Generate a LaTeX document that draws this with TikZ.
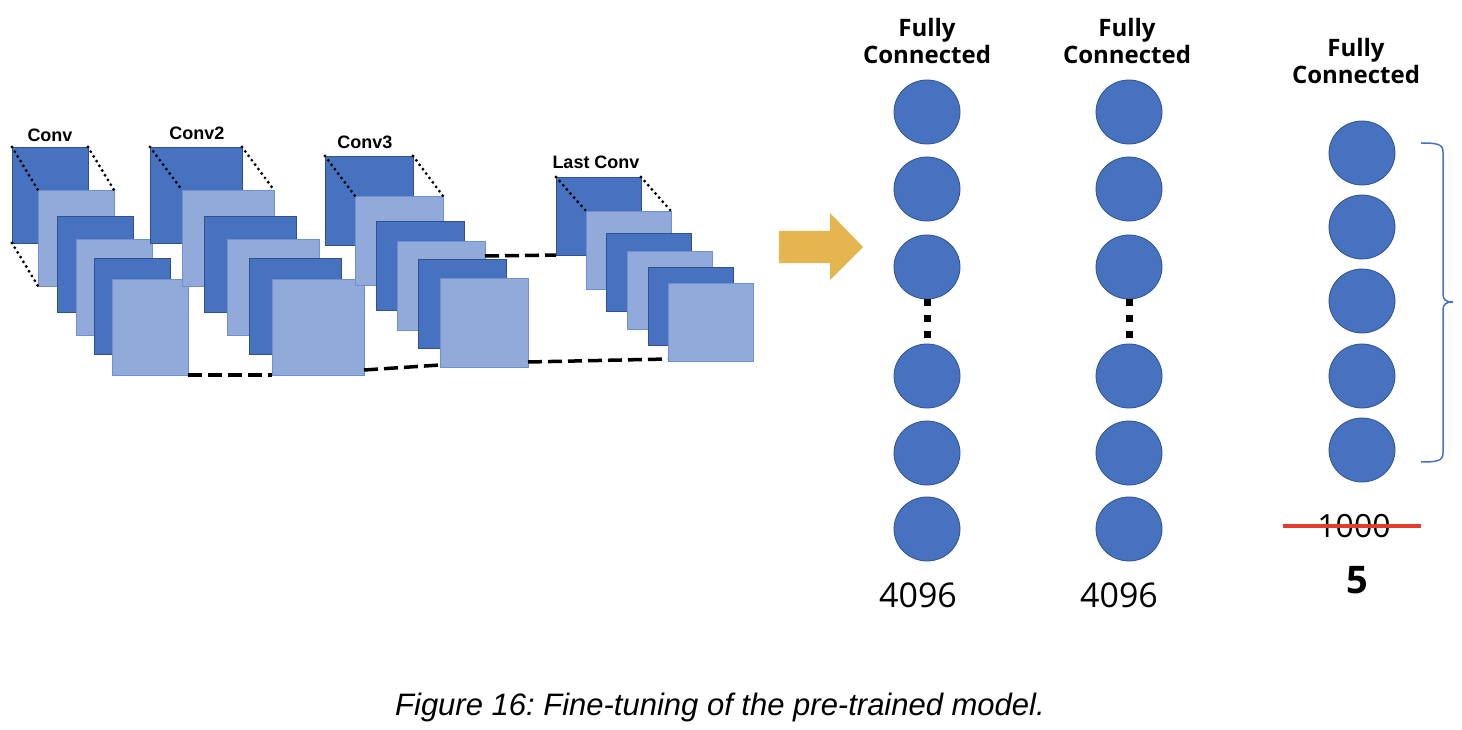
\documentclass[tikz,border=0pt]{standalone}
\usepackage{fontspec}
\setmainfont{Liberation Sans}
\newfontfamily\segfont{Open Sans}
\usetikzlibrary{calc,shapes.geometric}
\definecolor{dkblue}{HTML}{4672BF}
\definecolor{ltblue}{HTML}{92AAD9}
\definecolor{navy}{HTML}{2F528F}
\definecolor{ltedge}{HTML}{6F8FCF}
\definecolor{gold}{HTML}{E5B64F}
\definecolor{strikered}{HTML}{E53B2B}
\frenchspacing
\begin{document}
\begin{tikzpicture}[x=1pt,y=-1pt,
  fmap/.style={anchor=north west, inner sep=0pt, outer sep=0pt, line width=0.8pt},
  dk/.style={fmap, draw=navy, fill=dkblue},
  lt/.style={fmap, draw=ltedge, fill=ltblue},
  sa/.style={minimum width=76pt, minimum height=96pt},
  sb/.style={minimum width=92pt, minimum height=96pt},
  sc/.style={minimum width=88pt, minimum height=89pt},
  sd/.style={minimum width=85pt, minimum height=78pt},
  cornerdots/.style={line width=3.2pt, line cap=round, dash pattern=on 0pt off 5.5pt},
  dashlink/.style={line width=3.5pt, dash pattern=on 14pt off 6pt},
  fcdots/.style={line width=7pt, dash pattern=on 7pt off 9pt},
  neuron/.style={ellipse, draw=navy, line width=0.8pt, fill=dkblue, minimum width=66pt, minimum height=64pt, inner sep=0pt},
  convlabel/.style={font=\bfseries\fontsize{18}{20}\selectfont, inner sep=0pt},
  fclabel/.style={font=\segfont\bfseries\fontsize{24}{27}\selectfont, align=center, inner sep=0pt},
  num/.style={font=\segfont\fontsize{34}{40}\selectfont, inner sep=0pt},
  bracecol/.style={draw=dkblue, line width=1.5pt}
]
\useasboundingbox (0,0) rectangle (1462,730);
\fill[white] (0,0) rectangle (1462,730);

% stack 1
\node[dk,sa] (s1d1) at (12,147) {};
\node[lt,sa] (s1l1) at (38,190) {};
\node[dk,sa] (s1d2) at (57,216) {};
\node[lt,sa] (s1l2) at (76,239) {};
\node[dk,sa] (s1d3) at (94,258) {};
\node[lt,sa] (s1l3) at (112,279) {};
\draw[cornerdots] (s1d1.north west) -- (s1l1.north west);
\draw[cornerdots] (s1d1.north east) -- (s1l1.north east);
\draw[cornerdots] (s1d1.south west) -- (s1l1.south west);
\node[convlabel] (lab1) at (50,135) {Conv};

% stack 2
\node[dk,sb] (s2d1) at (150,147) {};
\node[lt,sb] (s2l1) at (182,190) {};
\node[dk,sb] (s2d2) at (204,216) {};
\node[lt,sb] (s2l2) at (227,239) {};
\node[dk,sb] (s2d3) at (249,258) {};
\node[lt,sb] (s2l3) at (272,279) {};
\draw[cornerdots] (s2d1.north west) -- (s2l1.north west);
\draw[cornerdots] (s2d1.north east) -- (s2l1.north east);
\node[convlabel] (lab2) at (197,133) {Conv2};

% stack 3
\node[dk,sc] (s3d1) at (325,156) {};
\node[lt,sc] (s3l1) at (355,196) {};
\node[dk,sc] (s3d2) at (376,221) {};
\node[lt,sc] (s3l2) at (397,241) {};
\node[dk,sc] (s3d3) at (418,259) {};
\node[lt,sc] (s3l3) at (440,278) {};
\draw[cornerdots] (s3d1.north west) -- (s3l1.north west);
\draw[cornerdots] (s3d1.north east) -- (s3l1.north east);
\node[convlabel] (lab3) at (365,142) {Conv3};

% last stack
\node[dk,sd] (s4d1) at (556,177) {};
\node[lt,sd] (s4l1) at (586,211) {};
\node[dk,sd] (s4d2) at (606,233) {};
\node[lt,sd] (s4l2) at (627,251) {};
\node[dk,sd] (s4d3) at (648,267) {};
\node[lt,sd] (s4l3) at (668,283) {};
\draw[cornerdots] (s4d1.north west) -- (s4l1.north west);
\draw[cornerdots] (s4d1.north east) -- (s4l1.north east);
\node[convlabel] (lab4) at (596,162) {Last Conv};

% dashed links
\draw[dashlink] (s1l3.south east) -- (s2l3.south west);
\draw[dashlink] ($(s2l3.south east)+(0,-5)$) -- ($(s3l3.south west)+(0,-2)$);
\draw[dashlink] ($(s3l3.south east)+(0,-5)$) -- ($(s4l3.south west)+(0,-2)$);
\draw[dashlink] ($(s3l2.north east)+(0,15)$) -- (s4d1.south west);

% arrow
\fill[gold] (779,231) -- (830,231) -- (830,213) -- (863,247) -- (830,280) -- (830,263) -- (779,263) -- cycle;

% column 1
\node[neuron] (c11) at (927,112) {};
\node[neuron] (c12) at (927,189) {};
\node[neuron] (c13) at (927,267) {};
\node[neuron] (c14) at (927,376) {};
\node[neuron] (c15) at (927,453) {};
\node[neuron] (c16) at (927,529) {};
\draw[fcdots] (c13.south) -- ($(c14.north)+(0,-6)$);
\node[fclabel] (h1) at (927,41) {Fully\\Connected};
\node[num] (n1) at (918,595) {4096};

% column 2
\node[neuron] (c21) at (1129,112) {};
\node[neuron] (c22) at (1129,189) {};
\node[neuron] (c23) at (1129,267) {};
\node[neuron] (c24) at (1129,376) {};
\node[neuron] (c25) at (1129,453) {};
\node[neuron] (c26) at (1129,529) {};
\draw[fcdots] (c23.south) -- ($(c24.north)+(0,-6)$);
\node[fclabel] (h2) at (1127,41) {Fully\\Connected};
\node[num] (n2) at (1119,595) {4096};

% column 3
\node[neuron] (c31) at (1362,153) {};
\node[neuron] (c32) at (1362,227) {};
\node[neuron] (c33) at (1362,301) {};
\node[neuron] (c34) at (1362,376) {};
\node[neuron] (c35) at (1362,450) {};
\node[fclabel] (h3) at (1356,61) {Fully\\Connected};

% brace
\coordinate (bt) at (1421,143);
\coordinate (bb) at (1421,462);
\draw[bracecol] (bt) .. controls (1437,143) and (1443,144) .. (1443,152)
  -- (1443,294) .. controls (1443,300) and (1446,302) .. (1453,302)
  .. controls (1446,302) and (1443,304) .. (1443,310)
  -- (1443,453) .. controls (1443,461) and (1437,462) .. (bb);

% old and new counts
\node[num, font=\segfont\fontsize{32}{38}\selectfont] (n3) at (1354,526) {1000};
\coordinate (sl) at (1283,526);
\coordinate (sr) at (1421,526);
\draw[strikered, line width=4pt] (sl) -- (sr);
\node[num, font=\segfont\bfseries\fontsize{38}{44}\selectfont] (n4) at (1357,580) {5};

% caption
\node[font=\itshape\fontsize{31}{36}\selectfont, inner sep=0pt] (cap) at (720,707) {Figure 16: Fine-tuning of the pre-trained model.};
\end{tikzpicture}
\end{document}
